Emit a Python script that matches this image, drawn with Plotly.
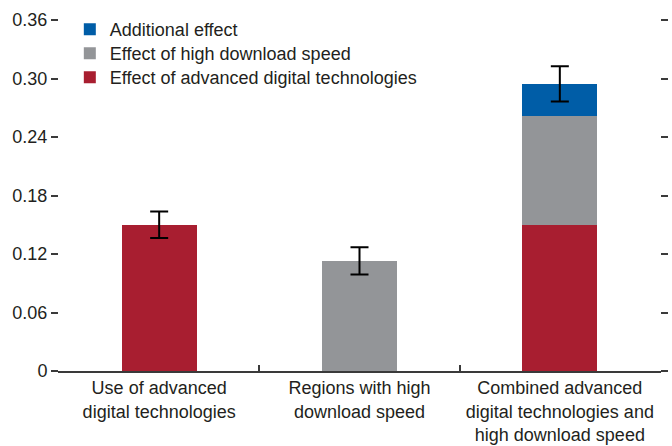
import plotly.graph_objects as go

categories = [
    "Use of advanced<br>digital technologies",
    "Regions with high<br>download speed",
    "Combined advanced<br>digital technologies and<br>high download speed",
]
adv_tech = [0.150, None, 0.150]
high_speed = [None, 0.113, 0.112]
additional = [None, None, 0.0325]
totals = [0.150, 0.113, 0.2945]
errors = [0.0135, 0.014, 0.018]

yticks = [0, 0.06, 0.12, 0.18, 0.24, 0.30, 0.36]
ytick_labels = ["0", "0.06", "0.12", "0.18", "0.24", "0.30", "0.36"]

RED = "#a81e30"
GRAY = "#939598"
BLUE = "#005da7"
FONT = "Liberation Sans Narrow, Arial Narrow, Liberation Sans, sans-serif"
TEXT = "#231f20"

fig = go.Figure()
fig.add_trace(go.Bar(x=categories, y=adv_tech, name="Effect of advanced digital technologies",
                     marker=dict(color=RED, line=dict(width=0)), legend="legend3"))
fig.add_trace(go.Bar(x=categories, y=high_speed, name="Effect of high download speed",
                     marker=dict(color=GRAY, line=dict(width=0)), legend="legend2"))
fig.add_trace(go.Bar(x=categories, y=additional, name="Additional effect",
                     marker=dict(color=BLUE, line=dict(width=0)), legend="legend"))
# confidence intervals drawn at the top of each stack
fig.add_trace(go.Scatter(x=categories, y=totals, mode="markers",
                         marker=dict(size=1, color="rgba(0,0,0,0)"),
                         error_y=dict(type="data", array=errors, color="black",
                                      thickness=2, width=9),
                         showlegend=False, hoverinfo="skip"))

legend_style = dict(x=0.018, xanchor="left", yanchor="middle",
                    bgcolor="rgba(0,0,0,0)", font=dict(size=18, color=TEXT))

fig.update_layout(
    width=672, height=446,
    margin=dict(l=59, r=12, t=19, b=75),
    barmode="stack",
    bargap=0.625,
    plot_bgcolor="white",
    paper_bgcolor="white",
    font=dict(family=FONT, size=18, color=TEXT),
    showlegend=True,
    legend=dict(y=0.970, **legend_style),
    legend2=dict(y=0.902, **legend_style),
    legend3=dict(y=0.834, **legend_style),
    xaxis=dict(showline=True, linecolor="#3a3a3a", linewidth=1.5,
               ticks="inside", ticklen=6, tickcolor="#3a3a3a", tickwidth=1.5,
               tickson="boundaries", showgrid=False, zeroline=False,
               automargin=False, tickfont=dict(size=18, color=TEXT)),
    yaxis=dict(range=[0, 0.36], tickvals=yticks, ticktext=ytick_labels,
               showline=True, linecolor="rgba(0,0,0,0)", mirror="ticks",
               ticks="outside", ticklen=7, tickcolor="#3a3a3a", tickwidth=1.5,
               showgrid=False, zeroline=False, automargin=False,
               tickfont=dict(size=18, color=TEXT)),
)

fig.write_html("out.html")
